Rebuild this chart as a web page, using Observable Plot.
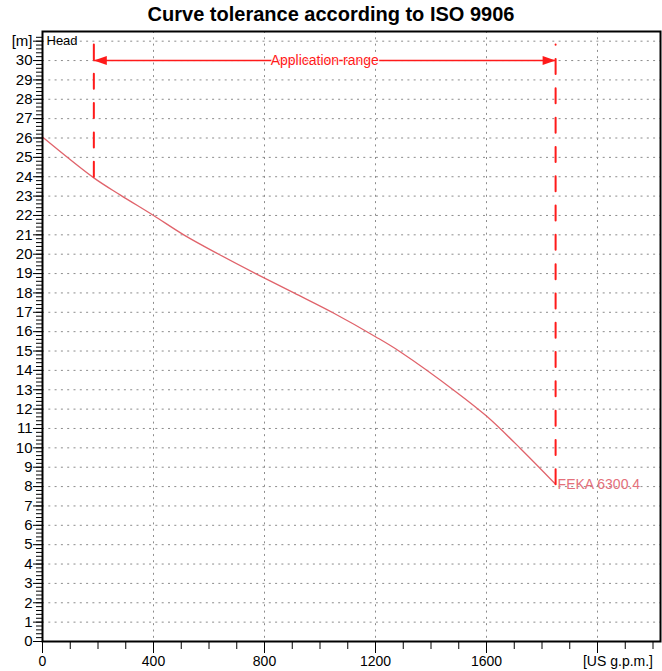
<!DOCTYPE html>
<html><head><meta charset="utf-8">
<script src="https://cdn.jsdelivr.net/npm/d3@7"></script>
<script src="https://cdn.jsdelivr.net/npm/@observablehq/plot@0.6"></script>
<style>
body{margin:0;background:#fff;}
#wrap{position:relative;width:662px;height:671px;font-family:"Liberation Sans",Arial,sans-serif;}
#title{position:absolute;z-index:2;top:0;left:0;width:662px;text-align:center;font-weight:bold;font-size:20px;line-height:28px;color:#000;}
</style></head><body>
<div id="wrap"><div id="title">Curve tolerance according to ISO 9906</div></div>
<script>
// Pump curve FEKA 6300.4: flow [US g.p.m.] vs head [m]
const flow = [0, 185, 281, 400, 509, 635, 768, 906, 1050, 1200, 1290, 1494, 1600, 1722, 1849];
const head = [26.05, 23.94, 23.05, 22.0, 21.0, 20.0, 19.0, 18.0, 16.95, 15.74, 14.95, 12.85, 11.64, 9.97, 8.12];
const curveName = "FEKA 6300.4";

// Application range
const appStart = 185, appEnd = 1849, appTop = 30.83, appArrowY = 30;
const appLabel = "Application range";

// Axis ticks and labels
const xMajor = [0, 400, 800, 1200, 1600, 2000];
const xLabels = ["0", "400", "800", "1200", "1600", ""];
const xMinor = d3.range(0, 2201, 100);
const xUnit = "[US g.p.m.]", xUnitAt = 2200;
const yMajor = d3.range(0, 32, 1);
const yLabels = yMajor.map(v => v === 31 ? "[m]" : String(v));
const yMinor = d3.range(0, 157).map(i => i * 0.2);
const xGrid = [400, 800, 1200, 1600, 2000];
const yGrid = d3.range(1, 32, 1);
const yTitle = "Head", yTitleAt = 31;
const xDomain = [0, 2227], yDomain = [0, 31.5];

const pts = flow.map((q, i) => ({q, h: head[i]}));
const leftLine = [{q: appStart, h: appTop}, {q: appStart, h: head[flow.indexOf(appStart)]}];
const rightLine = [{q: appEnd, h: head[flow.indexOf(appEnd)]}, {q: appEnd, h: appTop}];
const font = '"Liberation Sans", Arial, sans-serif';

const arrowLeft = {draw(ctx) { ctx.moveTo(0, 0); ctx.lineTo(13, -4.5); ctx.lineTo(13, 4.5); ctx.closePath(); }};
const arrowRight = {draw(ctx) { ctx.moveTo(0, 0); ctx.lineTo(-13, -4.5); ctx.lineTo(-13, 4.5); ctx.closePath(); }};

const chart = Plot.plot({
  width: 662, height: 671,
  marginLeft: 42, marginRight: 2, marginTop: 31, marginBottom: 30,
  style: {fontFamily: font, color: "#000", background: "#fff"},
  x: {domain: xDomain},
  y: {domain: yDomain},
  marks: [
    Plot.ruleY(yGrid, {stroke: "#8c8c8c", strokeDasharray: "2,4.3", strokeWidth: 1}),
    Plot.ruleX(xGrid, {stroke: "#8c8c8c", strokeDasharray: "2,4.3", strokeWidth: 1}),
    Plot.axisX({ticks: xMinor, tickSize: 8, tickFormat: () => "", label: null}),
    Plot.axisX({ticks: xMajor, tickSize: 12, tickPadding: 3, fontSize: 14, label: null,
      tickFormat: d => xLabels[xMajor.indexOf(d)]}),
    Plot.axisY({ticks: yMinor, tickSize: 6, tickFormat: () => "", label: null}),
    Plot.axisY({ticks: yMajor, tickSize: 9, tickPadding: 1, fontSize: 15, label: null,
      tickFormat: d => yLabels[yMajor.indexOf(d)]}),
    Plot.text([xUnit], {x: () => xUnitAt, y: () => 0, text: d => d, frameAnchor: "bottom",
      textAnchor: "end", lineAnchor: "top", dy: 15, fontSize: 14}),
    Plot.text([yTitle], {x: () => 0, y: () => yTitleAt, text: d => d, textAnchor: "start",
      dx: 4, fontSize: 13}),
    Plot.line(pts, {x: "q", y: "h", stroke: "#e0636b", strokeWidth: 1.3, curve: "catmull-rom"}),
    Plot.line(leftLine, {x: "q", y: "h", stroke: "#ff1a1a", strokeWidth: 2, strokeDasharray: "15,14.3"}),
    Plot.line(rightLine, {x: "q", y: "h", stroke: "#ff1a1a", strokeWidth: 2, strokeDasharray: "15,14.3"}),
    Plot.ruleY([appArrowY], {x1: appStart, x2: appEnd, stroke: "#ff1a1a", strokeWidth: 1.5}),
    Plot.dot([appStart], {x: d => d, y: () => appArrowY, symbol: arrowLeft, fill: "#ff1a1a", stroke: "none"}),
    Plot.dot([appEnd], {x: d => d, y: () => appArrowY, symbol: arrowRight, fill: "#ff1a1a", stroke: "none"}),
    Plot.text([appLabel], {x: () => (appStart + appEnd) / 2, y: () => appArrowY, text: d => d,
      fill: "#ff1a1a", stroke: "white", strokeWidth: 2, fontSize: 14}),
    Plot.text([curveName], {x: () => flow[flow.length - 1], y: () => head[head.length - 1], text: d => d,
      textAnchor: "start", dx: 2, fill: "#e4707a", fontSize: 14}),
    Plot.frame({stroke: "#000", strokeWidth: 2})
  ]
});
document.getElementById("wrap").appendChild(chart);
</script>
</body></html>
